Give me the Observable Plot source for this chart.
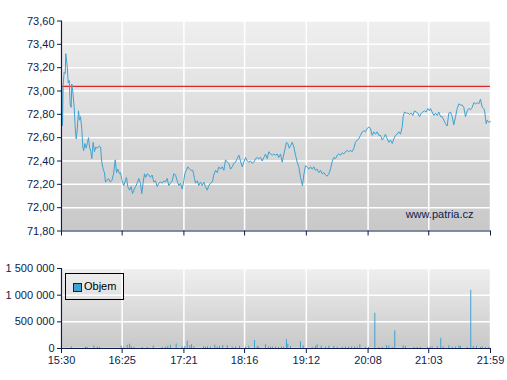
<!DOCTYPE html>
<html><head><meta charset="utf-8">
<script src="https://cdn.jsdelivr.net/npm/d3@7"></script>
<script src="https://cdn.jsdelivr.net/npm/@observablehq/plot@0.6"></script>
<style>
body{margin:0;background:#fff;font-family:"Liberation Sans",Arial,sans-serif;}
#wrap{position:relative;width:507px;height:380px;overflow:hidden;}
#wrap svg{display:block;}
#legend{position:absolute;left:65px;top:273px;width:59px;height:27px;border:1px solid #000;box-sizing:border-box;font-size:11px;color:#000;}
#legend .sw{position:absolute;left:7px;top:9px;width:7px;height:7px;background:#3ea2d2;border:1px solid #123;}
#legend .lb{position:absolute;left:18px;top:6px;}
</style></head><body><div id="wrap"></div>
<script>
// time axis labels (15:30 = minute 0)
const timeLabels = ["15:30","16:25","17:21","18:16","19:12","20:08","21:03","21:59"];
const priceTicks = [71.8, 72.0, 72.2, 72.4, 72.6, 72.8, 73.0, 73.2, 73.4, 73.6];
const volumeTicks = [0, 500000, 1000000, 1500000];
const volumeTickLabels = ["0", "500 000", "1 000 000", "1 500 000"];
const referencePrice = 73.04;

// price series: minutes after 15:30, price
const priceMinutes = [0.3,0.9,1.5,2.4,3.4,3.9,5.2,6.1,7.0,7.9,8.8,9.3,10.2,11.5,12.4,13.3,14.2,15.4,16.3,17.2,18.4,19.3,20.2,21.1,22.4,23.6,24.5,25.4,26.6,27.5,28.7,29.9,31.1,32.6,34.2,35.4,36.5,37.8,39.0,39.9,41.1,42.6,44.2,45.6,47.2,48.7,49.9,51.1,52.6,53.5,55.0,56.5,58.0,58.9,60.1,61.7,63.2,64.4,65.6,67.1,68.6,70.1,71.6,72.8,74.1,75.3,76.4,77.7,79.2,80.7,82.2,83.7,85.2,86.8,88.2,89.8,91.3,92.8,94.3,95.8,97.3,98.8,100.4,101.8,103.4,104.9,106.4,107.9,109.4,110.9,111.8,113.1,114.5,116.1,117.6,119.1,120.6,121.5,123.1,124.5,126.0,127.6,129.0,130.6,132.1,133.6,135.1,136.7,138.1,139.6,141.2,142.6,144.2,145.7,147.2,148.7,150.3,151.7,153.3,154.8,156.2,157.8,159.3,160.8,162.3,163.9,165.3,166.9,168.4,169.8,171.4,172.9,174.4,175.9,177.5,178.9,180.5,182.0,183.5,185.0,186.5,188.0,189.5,191.1,192.5,194.1,195.6,197.0,198.6,200.1,201.6,203.1,204.0,205.2,206.5,207.7,209.2,210.7,212.2,213.7,215.2,216.7,218.5,219.7,221.3,222.8,224.2,225.8,227.3,228.8,230.3,231.8,233.3,234.9,236.4,237.9,239.4,240.9,242.4,243.9,245.5,246.9,248.5,250.0,251.5,253.0,254.5,256.0,257.5,259.1,260.5,262.1,263.6,265.1,266.6,268.1,269.6,271.1,272.7,274.1,275.7,277.2,278.7,280.2,281.7,283.2,284.7,286.3,287.7,289.3,290.8,292.3,293.8,295.3,296.8,298.3,299.9,301.3,302.9,304.4,305.9,307.4,308.9,309.8,311.0,312.6,314.0,315.6,317.1,318.6,320.1,321.6,323.1,324.6,326.2,327.6,329.2,330.7,332.2,333.7,334.6,336.1,337.6,339.1,340.7,342.1,343.7,345.2,346.7,348.2,349.7,351.2,352.7,354.3,355.7,357.3,358.8,360.3,361.8,363.3,364.8,366.3,367.9,369.3,370.9,372.4,373.9,375.4,376.9,378.4,379.9,381.5,382.9,383.8,385.1,386.0,387.6,389.0];
const prices = [73.03,72.70,73.05,73.16,73.15,73.32,73.21,73.07,73.09,72.88,72.86,73.06,73.00,72.86,72.69,72.59,72.66,72.83,72.75,72.78,72.68,72.52,72.49,72.55,72.51,72.56,72.60,72.52,72.48,72.42,72.56,72.48,72.52,72.51,72.53,72.52,72.39,72.33,72.30,72.22,72.23,72.25,72.22,72.23,72.29,72.41,72.30,72.33,72.29,72.30,72.23,72.19,72.23,72.26,72.18,72.15,72.18,72.12,72.15,72.18,72.21,72.25,72.21,72.12,72.22,72.29,72.26,72.29,72.28,72.26,72.28,72.22,72.23,72.18,72.21,72.22,72.21,72.23,72.22,72.25,72.19,72.21,72.23,72.29,72.28,72.23,72.19,72.21,72.16,72.23,72.29,72.32,72.35,72.33,72.32,72.32,72.25,72.21,72.23,72.19,72.22,72.19,72.22,72.18,72.15,72.19,72.21,72.22,72.28,72.32,72.30,72.35,72.33,72.35,72.32,72.41,72.39,72.38,72.33,72.35,72.38,72.39,72.42,72.45,72.40,72.35,72.39,72.43,72.40,72.39,72.40,72.38,72.39,72.42,72.43,72.42,72.43,72.40,72.43,72.46,72.42,72.48,72.46,72.45,72.46,72.45,72.46,72.43,72.46,72.39,72.46,72.52,72.56,72.55,72.51,72.53,72.56,72.52,72.45,72.39,72.35,72.26,72.19,72.28,72.36,72.35,72.33,72.35,72.33,72.35,72.32,72.33,72.30,72.32,72.29,72.30,72.28,72.27,72.29,72.33,72.40,72.43,72.42,72.45,72.46,72.45,72.47,72.46,72.48,72.49,72.48,72.49,72.48,72.51,72.56,72.58,72.59,72.62,72.65,72.66,72.65,72.68,72.69,72.68,72.62,72.65,72.63,72.65,72.62,72.62,72.58,72.60,72.63,72.59,72.56,72.58,72.55,72.59,72.62,72.63,72.65,72.63,72.69,72.78,72.82,72.81,72.81,72.80,72.81,72.79,72.83,72.82,72.81,72.78,72.81,72.82,72.83,72.82,72.85,72.83,72.85,72.82,72.79,72.81,72.79,72.82,72.78,72.78,72.75,72.72,72.70,72.81,72.82,72.78,72.71,72.78,72.85,72.89,72.88,72.88,72.86,72.78,72.83,72.85,72.84,72.86,72.90,72.89,72.90,72.89,72.93,72.86,72.85,72.82,72.72,72.75,72.73,72.74];

// volume series: minutes after 15:30, traded volume
const volumeMinutes = [8.8,21.8,23.3,29.3,32.4,34.5,54.1,56.5,59.6,61.7,63.2,65.6,73.2,77.7,83.2,91.3,94.3,96.4,98.8,104.0,109.4,111.8,114.0,116.3,117.9,120.0,128.8,130.6,132.4,135.1,139.0,141.2,143.3,146.3,150.3,154.8,157.8,161.4,166.9,169.8,175.0,177.5,178.9,185.0,187.7,189.5,191.3,194.1,196.8,199.5,201.3,204.0,205.2,207.7,216.7,219.2,227.3,230.3,231.8,235.5,239.4,242.4,246.9,250.0,254.5,257.5,260.3,263.0,265.7,268.1,270.5,275.7,278.4,284.1,287.7,290.8,294.7,296.8,299.9,302.2,309.8,311.9,319.5,322.5,325.5,331.9,334.2,336.1,340.7,343.9,346.1,351.2,354.3,357.3,360.3,361.8,367.9,371.1,373.3,376.3,380.0,381.5,384.5,387.5];
const volumes = [30000,25000,20000,45000,25000,20000,45000,20000,60000,80000,35000,20000,20000,20000,45000,20000,25000,40000,60000,85000,30000,35000,135000,50000,70000,30000,30000,25000,30000,25000,60000,25000,40000,55000,50000,25000,25000,40000,25000,40000,150000,40000,20000,70000,25000,20000,25000,25000,20000,25000,25000,165000,80000,35000,125000,50000,20000,40000,70000,40000,25000,40000,40000,20000,25000,25000,25000,25000,25000,25000,70000,20000,20000,660000,20000,20000,50000,45000,20000,330000,50000,35000,20000,20000,20000,25000,25000,25000,35000,190000,30000,50000,25000,25000,45000,40000,20000,1090000,35000,35000,20000,30000,20000,20000];

const toMin = s => { const [h, m] = s.split(":").map(Number); return h * 60 + m - (15 * 60 + 30); };
const tickMinutes = timeLabels.map(toMin);
const xDomain = [tickMinutes[0], tickMinutes[tickMinutes.length - 1]];
const priceData = priceMinutes.map((m, i) => ({m, p: prices[i]}));
const volData = volumeMinutes.map((m, i) => ({m, v: volumes[i]}));

const navy = "#0c1c4c";
const lineBlue = "#3ea2d2";
const font = {fontFamily: "'Liberation Sans', Arial, sans-serif", fontSize: "11px", color: navy, background: "transparent", overflow: "visible"};
const grid = {stroke: "#fff", strokeOpacity: 1, strokeWidth: 1.5};

function addGrad(svg, id) {
  const ns = "http://www.w3.org/2000/svg";
  const defs = document.createElementNS(ns, "defs");
  defs.innerHTML = `<linearGradient id="${id}" x1="0" y1="0" x2="0" y2="1"><stop offset="0" stop-color="#efefef"/><stop offset="1" stop-color="#c8c8c8"/></linearGradient>`;
  svg.insertBefore(defs, svg.firstChild);
}

const topChart = Plot.plot({
  width: 507, height: 250,
  marginLeft: 61, marginRight: 17, marginTop: 20.5, marginBottom: 19.5,
  style: font,
  x: {domain: xDomain, axis: null, label: null},
  y: {domain: [priceTicks[0], priceTicks[priceTicks.length - 1]], axis: null, label: null},
  marks: [
    Plot.frame({fill: "url(#gTop)"}),
    Plot.gridX(tickMinutes, grid),
    Plot.gridY(priceTicks, grid),
    Plot.ruleY([referencePrice], {stroke: "#e02a2a", strokeWidth: 1.2}),
    Plot.line(priceData, {x: "m", y: "p", stroke: lineBlue, strokeWidth: 1}),
    Plot.axisY(priceTicks, {label: null, tickSize: 4, tickPadding: 3, tickFormat: d => d.toFixed(2).replace(".", ","), stroke: navy, fill: navy}),
    Plot.axisX(tickMinutes, {label: null, tickSize: 5, tickFormat: () => "", stroke: navy}),
    Plot.ruleX([xDomain[0]], {stroke: navy, strokeWidth: 1.2}),
    Plot.ruleY([priceTicks[0]], {stroke: navy, strokeWidth: 1.2}),
    Plot.text(["www.patria.cz"], {frameAnchor: "bottom-right", textAnchor: "end", lineAnchor: "bottom", dx: -17, dy: -13, fill: navy, fontSize: 11})
  ]
});
addGrad(topChart, "gTop");

const bottomChart = Plot.plot({
  width: 507, height: 130,
  marginLeft: 61, marginRight: 17, marginTop: 18, marginBottom: 32,
  style: font,
  x: {domain: xDomain, axis: null, label: null},
  y: {domain: [volumeTicks[0], volumeTicks[volumeTicks.length - 1]], axis: null, label: null},
  marks: [
    Plot.frame({fill: "url(#gBot)"}),
    Plot.gridX(tickMinutes, grid),
    Plot.gridY(volumeTicks, grid),
    Plot.ruleX(volData, {x: "m", y1: 0, y2: "v", stroke: lineBlue, strokeWidth: 1}),
    Plot.axisY(volumeTicks, {label: null, tickSize: 4, tickPadding: 3, tickFormat: d => volumeTickLabels[volumeTicks.indexOf(d)], stroke: navy, fill: navy}),
    Plot.axisX(tickMinutes, {label: null, tickSize: 5, tickPadding: 3, tickFormat: d => timeLabels[tickMinutes.indexOf(d)], stroke: navy, fill: navy}),
    Plot.ruleX([xDomain[0]], {stroke: navy, strokeWidth: 1.2}),
    Plot.ruleY([volumeTicks[0]], {stroke: navy, strokeWidth: 1.2})
  ]
});
addGrad(bottomChart, "gBot");

const wrap = document.getElementById("wrap");
wrap.appendChild(topChart);
wrap.appendChild(bottomChart);
const legend = document.createElement("div");
legend.id = "legend";
legend.innerHTML = '<div class="sw"></div><div class="lb">Objem</div>';
wrap.appendChild(legend);
</script></body></html>
